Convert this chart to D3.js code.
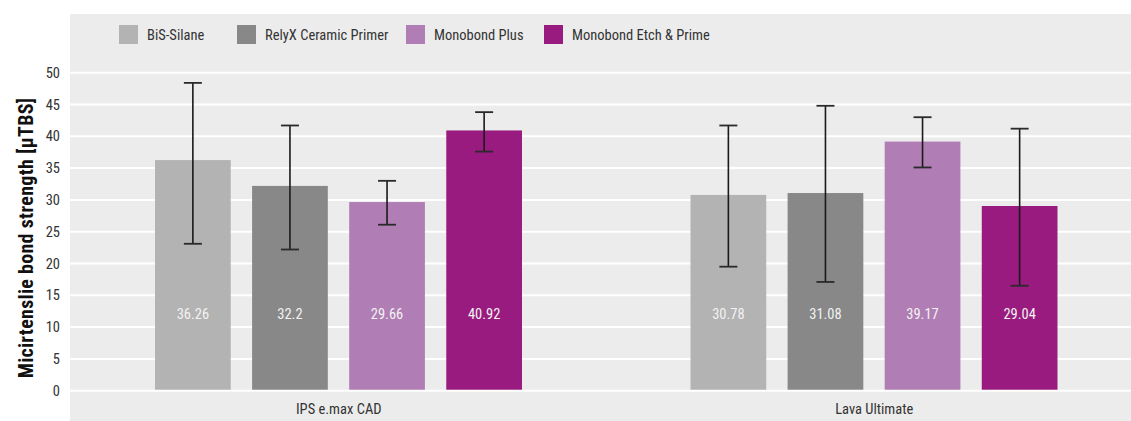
<!DOCTYPE html>
<html><head><meta charset="utf-8">
<script src="https://cdn.jsdelivr.net/npm/d3@7"></script>
<style>
html,body{margin:0;padding:0;background:#fff;}
svg text{font-family:"Roboto Condensed","Open Sans",sans-serif;}
</style></head>
<body>
<svg id="chart" width="1131" height="421"></svg>
<script>
const categories = ["IPS e.max CAD", "Lava Ultimate"];
const seriesNames = ["BiS-Silane", "RelyX Ceramic Primer", "Monobond Plus", "Monobond Etch & Prime"];
const seriesColors = ["#b3b3b3", "#888888", "#b07db4", "#991b7f"];
const meanValues = [
  [36.26, 32.2, 29.66, 40.92],
  [30.78, 31.08, 39.17, 29.04]
];
const errorHigh = [
  [48.4, 41.7, 33.0, 43.8],
  [41.7, 44.8, 43.0, 41.2]
];
const errorLow = [
  [23.1, 22.2, 26.1, 37.6],
  [19.5, 17.1, 35.1, 16.5]
];
const yTicks = [0, 5, 10, 15, 20, 25, 30, 35, 40, 45, 50];
const yTitle = "Micirtenslie bond strength [µTBS]";

const svg = d3.select("#chart");
const panel = {left: 70, top: 14, right: 1131, bottom: 421};

svg.append("rect").attr("x", panel.left).attr("y", panel.top)
  .attr("width", panel.right - panel.left).attr("height", panel.bottom - panel.top)
  .attr("fill", "#ececec");

const y = d3.scaleLinear().domain([0, 50]).range([390.7, 72.7]);
const x0 = d3.scaleBand().domain(categories).range([71, 1142]).padding(0);
const x1 = d3.scaleBand().domain(seriesNames).range([84, 451]).paddingInner(0.22).paddingOuter(0);

// gridlines
svg.append("g").selectAll("line").data(yTicks).join("line")
  .attr("x1", panel.left).attr("x2", panel.right)
  .attr("y1", d => y(d)).attr("y2", d => y(d))
  .attr("stroke", "#ffffff").attr("stroke-width", 2);

// y axis labels
const yAxis = d3.axisLeft(y).tickValues(yTicks).tickSize(0).tickPadding(0);
const ya = svg.append("g").attr("transform", "translate(60,0)").call(yAxis);
ya.select(".domain").remove();
ya.selectAll("text").attr("font-size", 14.5).attr("fill", "#333")
  .attr("font-family", null);

// y title
svg.append("text")
  .attr("transform", "translate(33,238) rotate(-90)")
  .attr("text-anchor", "middle")
  .attr("font-size", 20).attr("font-weight", "bold").attr("fill", "#111")
  .attr("letter-spacing", 0.3)
  .text(yTitle);

// bars
const groups = svg.append("g").selectAll("g").data(categories).join("g")
  .attr("transform", d => `translate(${x0(d)},0)`);

groups.each(function(cat, ci) {
  const g = d3.select(this);
  seriesNames.forEach((s, si) => {
    const v = meanValues[ci][si];
    const bx = x1(s), bw = x1.bandwidth();
    g.append("rect").attr("x", bx).attr("y", y(v))
      .attr("width", bw).attr("height", y(0) - y(v) - 1)
      .attr("fill", seriesColors[si]);
    g.append("text").attr("x", bx + bw / 2).attr("y", y(12) + 5)
      .attr("text-anchor", "middle").attr("font-size", 14.5)
      .attr("fill", "#f2f2f2").text(v);
    const cx = bx + bw / 2;
    const hi = y(errorHigh[ci][si]), lo = y(errorLow[ci][si]);
    g.append("line").attr("x1", cx).attr("x2", cx).attr("y1", hi).attr("y2", lo)
      .attr("stroke", "#1a1a1a").attr("stroke-width", 1.6);
    [hi, lo].forEach(yy => {
      g.append("line").attr("x1", cx - 9).attr("x2", cx + 9).attr("y1", yy).attr("y2", yy)
        .attr("stroke", "#2a2a2a").attr("stroke-width", 1.8);
    });
  });
});

// x axis labels
const xAxis = d3.axisBottom(x0).tickSize(0).tickPadding(0);
const xa = svg.append("g").attr("transform", "translate(0,404)").call(xAxis);
xa.select(".domain").remove();
xa.selectAll("text").attr("font-size", 14.5).attr("fill", "#333")
  .attr("font-family", null);

// legend
const legendX = [119, 237, 406, 544];
const lg = svg.append("g").selectAll("g").data(seriesNames).join("g")
  .attr("transform", (d, i) => `translate(${legendX[i]},25)`);
lg.append("rect").attr("width", 19).attr("height", 19).attr("fill", (d, i) => seriesColors[i]);
lg.append("text").attr("x", 28).attr("y", 14.5).attr("font-size", 14.5).attr("fill", "#333").text(d => d);
</script>
</body></html>
